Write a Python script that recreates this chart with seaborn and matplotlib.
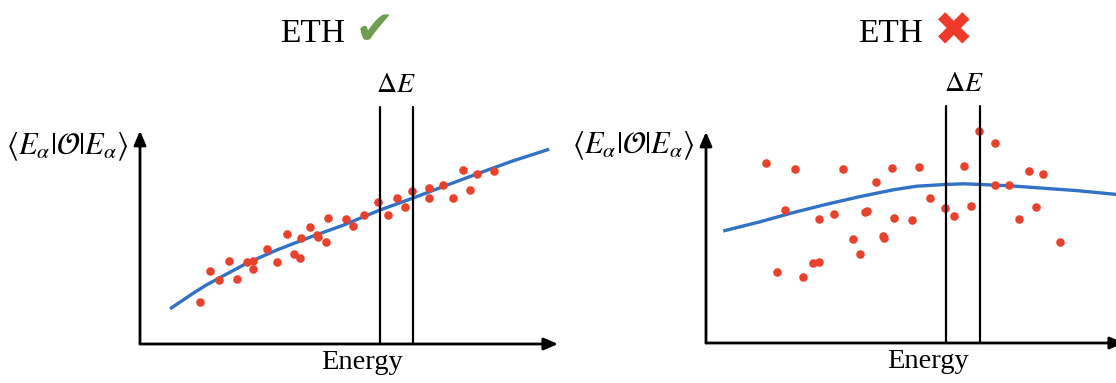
import matplotlib
matplotlib.use("Agg")
import matplotlib.pyplot as plt
import seaborn as sns
import pandas as pd

# ---- data (arbitrary units: energy on x, expectation value on y) ----
eth_energy = [1.50, 1.75, 1.98, 2.23, 2.43, 2.68, 2.83, 2.83, 3.18, 3.43, 3.68, 3.85,
              4.00, 4.03, 4.25, 4.43, 4.45, 4.65, 4.70, 5.15, 5.33, 5.60, 5.95, 6.20,
              6.43, 6.63, 6.80, 7.23, 7.23, 7.58, 7.83, 8.08, 8.25, 8.43, 8.85]
eth_value = [1.05, 1.83, 1.60, 2.08, 1.63, 2.05, 2.08, 1.88, 2.38, 2.05, 2.75, 2.25,
             2.15, 2.65, 2.93, 2.73, 2.68, 2.55, 3.15, 3.13, 2.95, 3.23, 3.55, 3.23,
             3.65, 3.43, 3.83, 3.90, 3.65, 3.98, 3.65, 4.35, 3.85, 4.25, 4.33]
eth_curve_energy = [0.75, 1.05, 1.33, 1.65, 2.00, 2.67, 3.42, 4.25, 5.08, 6.00, 6.83,
                    7.67, 8.50, 9.33, 10.23]
eth_curve_value = [0.88, 1.08, 1.27, 1.47, 1.66, 2.02, 2.35, 2.67, 2.97, 3.35, 3.65,
                   3.97, 4.28, 4.58, 4.87]

noeth_energy = [1.50, 2.23, 3.43, 4.65, 5.33, 6.45, 6.83, 7.23, 4.25, 8.08, 8.43, 7.23,
                7.58, 1.98, 2.83, 3.20, 3.98, 4.03, 4.70, 5.15, 5.60, 5.98, 6.20, 6.63,
                7.83, 8.25, 8.85, 3.68, 4.43, 4.45, 3.85, 2.68, 2.83, 1.78, 2.43]
noeth_value = [4.50, 4.35, 4.35, 4.38, 4.40, 4.43, 5.30, 5.00, 4.03, 4.30, 4.23, 3.95,
               3.95, 3.33, 3.10, 3.23, 3.28, 3.30, 3.13, 3.08, 3.63, 3.38, 3.18, 3.43,
               3.10, 3.40, 2.53, 2.60, 2.68, 2.63, 2.23, 2.00, 2.03, 1.78, 1.65]
noeth_curve_energy = [0.43, 1.35, 2.18, 3.02, 3.85, 4.68, 5.27, 5.93, 6.43, 6.93,
                      7.60, 8.43, 9.27, 10.30]
noeth_curve_value = [2.80, 3.03, 3.26, 3.47, 3.66, 3.83, 3.92, 3.96, 3.98, 3.96,
                     3.93, 3.87, 3.81, 3.71]

window = [6.0, 6.84]          # energy window ΔE
titles = ["ETH", "ETH"]
title_marks = ["\u2714", "\u2716"]
xlabel = "Energy"
ylabel = r"$\langle E_\alpha|\mathcal{O}|E_\alpha\rangle$"
window_label = r"$\Delta E$"

# ---- style ----
sns.set_theme(style="white")
plt.rcParams["mathtext.fontset"] = "stix"
plt.rcParams["font.family"] = ["Liberation Serif", "DejaVu Serif"]
plt.rcParams["text.color"] = "black"

DOT = "#E8412C"
LINE = "#3272C6"
GREEN = "#6E9E4F"
RED = "#EE3A2B"

W, H = 1116, 383
fig = plt.figure(figsize=(W / 100, H / 100), dpi=100)

panels = [
    dict(left=140, base=344, ytop=5.33, e=eth_energy, v=eth_value,
         ce=eth_curve_energy, cv=eth_curve_value, wl=6.0, wr=6.83, dl=6.4,
         tx=280, mx=374, my=32, mark=title_marks[0], mcol=GREEN, msize=34),
    dict(left=706, base=343, ytop=5.28, e=noeth_energy, v=noeth_value,
         ce=noeth_curve_energy, cv=noeth_curve_value, wl=6.0, wr=6.85, dl=6.45,
         tx=858, mx=954, my=33, mark=title_marks[1], mcol=RED, msize=34),
]

scale = 40.0  # pixels per unit
for i, p in enumerate(panels):
    ax = fig.add_axes([p["left"] / W, (H - p["base"]) / H,
                       10.4 * scale / W, 6.5 * scale / H])
    ax.set_xlim(0, 10.4)
    ax.set_ylim(0, 6.5)
    ax.axis("off")

    df_pts = pd.DataFrame({"energy": p["e"], "value": p["v"]})
    df_cur = pd.DataFrame({"energy": p["ce"], "value": p["cv"]})
    sns.lineplot(data=df_cur, x="energy", y="value", ax=ax, color=LINE, lw=2.4,
                 sort=False, estimator=None, zorder=2,
                 solid_joinstyle="round", solid_capstyle="butt")
    sns.scatterplot(data=df_pts, x="energy", y="value", ax=ax, color=DOT, s=38,
                    linewidth=0, zorder=3)

    # energy window lines
    for xv in (p["wl"], p["wr"]):
        ax.plot([xv, xv], [0, 5.93], color="black", lw=1.6, zorder=4,
                clip_on=False)
    ax.text(p["dl"], 6.15, window_label, ha="center", va="bottom",
            fontsize=20, color="black")

    # axes as arrows
    arrow = dict(arrowstyle="-|>,head_length=0.7,head_width=0.3",
                 color="black", lw=2.0, shrinkA=0, shrinkB=0)
    ax.annotate("", xy=(10.45, 0), xytext=(0, 0), arrowprops=arrow,
                annotation_clip=False)
    ax.annotate("", xy=(0, p["ytop"]), xytext=(0, 0), arrowprops=arrow,
                annotation_clip=False)

    ax.text(-0.3, 4.92, ylabel, ha="right", va="center", fontsize=22)
    ax.text(5.56, -0.15, xlabel, ha="center", va="top", fontsize=20.5)

    fig.text(p["tx"] / W, (H - 42) / H, titles[i], ha="left", va="baseline",
             fontsize=24)
    fig.text(p["mx"] / W, (H - p["my"]) / H, p["mark"], ha="center",
             va="center", fontsize=p["msize"], color=p["mcol"],
             family=["DejaVu Sans"])

fig.savefig("out.png", dpi=100)
